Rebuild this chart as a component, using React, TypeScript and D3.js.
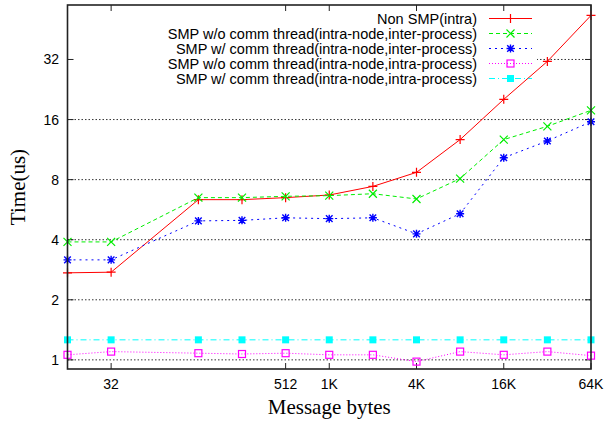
import React from "react";
import * as d3 from "d3";

const sizes = [16, 32, 128, 256, 512, 1024, 2048, 4096, 8192, 16384, 32768, 65536];
const nonSmpIntra = [2.73, 2.75, 6.35, 6.35, 6.5, 6.7, 7.4, 8.7, 12.7, 20.2, 31.3, 53.2];
const smpNoThreadInter = [3.9, 3.9, 6.5, 6.5, 6.6, 6.65, 6.8, 6.4, 8.1, 12.7, 14.8, 17.8];
const smpThreadInter = [3.17, 3.17, 4.97, 5.0, 5.15, 5.1, 5.15, 4.28, 5.4, 10.3, 12.5, 15.6];
const smpNoThreadIntra = [1.06, 1.1, 1.08, 1.07, 1.08, 1.06, 1.06, 0.98, 1.1, 1.06, 1.1, 1.05];
const smpThreadIntra = [1.26, 1.26, 1.26, 1.26, 1.26, 1.26, 1.26, 1.26, 1.26, 1.26, 1.26, 1.26];

const seriesNames = [
  "Non SMP(intra)",
  "SMP w/o comm thread(intra-node,inter-process)",
  "SMP w/ comm thread(intra-node,inter-process)",
  "SMP w/o comm thread(intra-node,intra-process)",
  "SMP w/ comm thread(intra-node,intra-process)",
];
const seriesValues = [nonSmpIntra, smpNoThreadInter, smpThreadInter, smpNoThreadIntra, smpThreadIntra];
const seriesColors = ["#ff0000", "#00ee00", "#0000ff", "#ff00ff", "#00ffff"];
const seriesDash = ["none", "4,3", "2,4", "1,2", "6,3,1,3"];
const seriesMarker = ["plus", "cross", "star", "box", "fbox"];

const xTicks = [32, 512, 1024, 4096, 16384, 65536];
const xTickLabels = ["32", "512", "1K", "4K", "16K", "64K"];
const yTicks = [1, 2, 4, 8, 16, 32];
const yTickLabels = ["1", "2", "4", "8", "16", "32"];

const W = 605, H = 421;
const L = 67.5, R = 591, T = 5, B = 369;

function Marker({ kind, x, y, color }: { kind: string; x: number; y: number; color: string }) {
  const s = 4.5;
  if (kind === "plus")
    return <path d={`M${x - s},${y}H${x + s}M${x},${y - s}V${y + s}`} stroke={color} strokeWidth={1.2} fill="none" />;
  if (kind === "cross")
    return <path d={`M${x - 4},${y - 4}L${x + 4},${y + 4}M${x - 4},${y + 4}L${x + 4},${y - 4}`} stroke={color} strokeWidth={1.2} fill="none" />;
  if (kind === "star")
    return (
      <path
        d={`M${x - 4},${y}H${x + 4}M${x},${y - 4}V${y + 4}M${x - 3.3},${y - 3.3}L${x + 3.3},${y + 3.3}M${x - 3.3},${y + 3.3}L${x + 3.3},${y - 3.3}`}
        stroke={color}
        strokeWidth={1.4}
        fill="none"
      />
    );
  if (kind === "box")
    return <rect x={x - 3.5} y={y - 3.5} width={7} height={7} stroke={color} strokeWidth={1.2} fill="none" />;
  return <rect x={x - 3.5} y={y - 3.5} width={7} height={7} fill={color} />;
}

export default function App() {
  const x = d3.scaleLog().base(2).domain([16, 65536]).range([L, R]);
  const y = d3.scaleLog().base(2).domain([0.9, 60]).range([B, T]);
  const line = d3
    .line<[number, number]>()
    .x((d) => x(d[0]))
    .y((d) => y(d[1]));

  const legendY0 = 18.5;
  const legendDy = 15;
  const legendTextX = 477;
  const legendS0 = 489, legendS1 = 532;

  return (
    <svg width={W} height={H} style={{ position: "absolute", left: 0, top: 0, background: "#fff" }} fontFamily="'Liberation Sans', Arial, sans-serif">
      <rect x={0} y={0} width={W} height={H} fill="#fff" />
      {/* grid */}
      {yTicks.map((t) => (
        <line key={"g" + t} x1={L} x2={R} y1={y(t)} y2={y(t)} stroke="#333" strokeWidth={1} strokeDasharray="1.5,2" />
      ))}
      {/* legend box (opaque) */}
      <rect x={L + 1} y={T + 1} width={537 - L - 1} height={80} fill="#fff" />
      {/* ticks */}
      {yTicks.map((t, i) => (
        <g key={"yt" + t}>
          <line x1={L} x2={L + 6} y1={y(t)} y2={y(t)} stroke="#222" strokeWidth={1} />
          <line x1={R} x2={R - 6} y1={y(t)} y2={y(t)} stroke="#222" strokeWidth={1} />
          <text x={59} y={y(t) + 5} textAnchor="end" fontSize={14} fill="#000">
            {yTickLabels[i]}
          </text>
        </g>
      ))}
      {xTicks.map((t, i) => (
        <g key={"xt" + t}>
          <line x1={x(t)} x2={x(t)} y1={B} y2={B - 6} stroke="#222" strokeWidth={1} />
          <line x1={x(t)} x2={x(t)} y1={T} y2={T + 6} stroke="#222" strokeWidth={1} />
          <text x={x(t)} y={389} textAnchor="middle" fontSize={14} fill="#000">
            {xTickLabels[i]}
          </text>
        </g>
      ))}
      {/* series */}
      {seriesValues.map((vals, si) => {
        const pts: [number, number][] = sizes.map((s, i) => [s, vals[i]]);
        return (
          <g key={"s" + si}>
            <path d={line(pts) || ""} fill="none" stroke={seriesColors[si]} strokeWidth={1} strokeDasharray={seriesDash[si]} />
            {pts.map((p, i) => (
              <Marker key={i} kind={seriesMarker[si]} x={x(p[0])} y={y(p[1])} color={seriesColors[si]} />
            ))}
          </g>
        );
      })}
      {/* legend */}
      {seriesNames.map((n, i) => {
        const ly = legendY0 + i * legendDy;
        return (
          <g key={"l" + i}>
            <text x={legendTextX} y={ly + 5} textAnchor="end" fontSize={14.5} fill="#000">
              {n}
            </text>
            <line x1={legendS0} x2={legendS1} y1={ly} y2={ly} stroke={seriesColors[i]} strokeWidth={1} strokeDasharray={seriesDash[i]} />
            <Marker kind={seriesMarker[i]} x={(legendS0 + legendS1) / 2} y={ly} color={seriesColors[i]} />
          </g>
        );
      })}
      {/* border */}
      <rect x={L} y={T} width={R - L} height={B - T} fill="none" stroke="#222" strokeWidth={1.6} />
      {/* axis titles */}
      <text x={(L + R) / 2} y={414} textAnchor="middle" fontSize={21} fontFamily="'Liberation Serif', 'Times New Roman', serif" fill="#000">
        Message bytes
      </text>
      <text
        transform={`translate(25,${(T + B) / 2}) rotate(-90)`}
        textAnchor="middle"
        fontSize={21}
        fontFamily="'Liberation Serif', 'Times New Roman', serif"
        fill="#000"
      >
        Time(us)
      </text>
    </svg>
  );
}
